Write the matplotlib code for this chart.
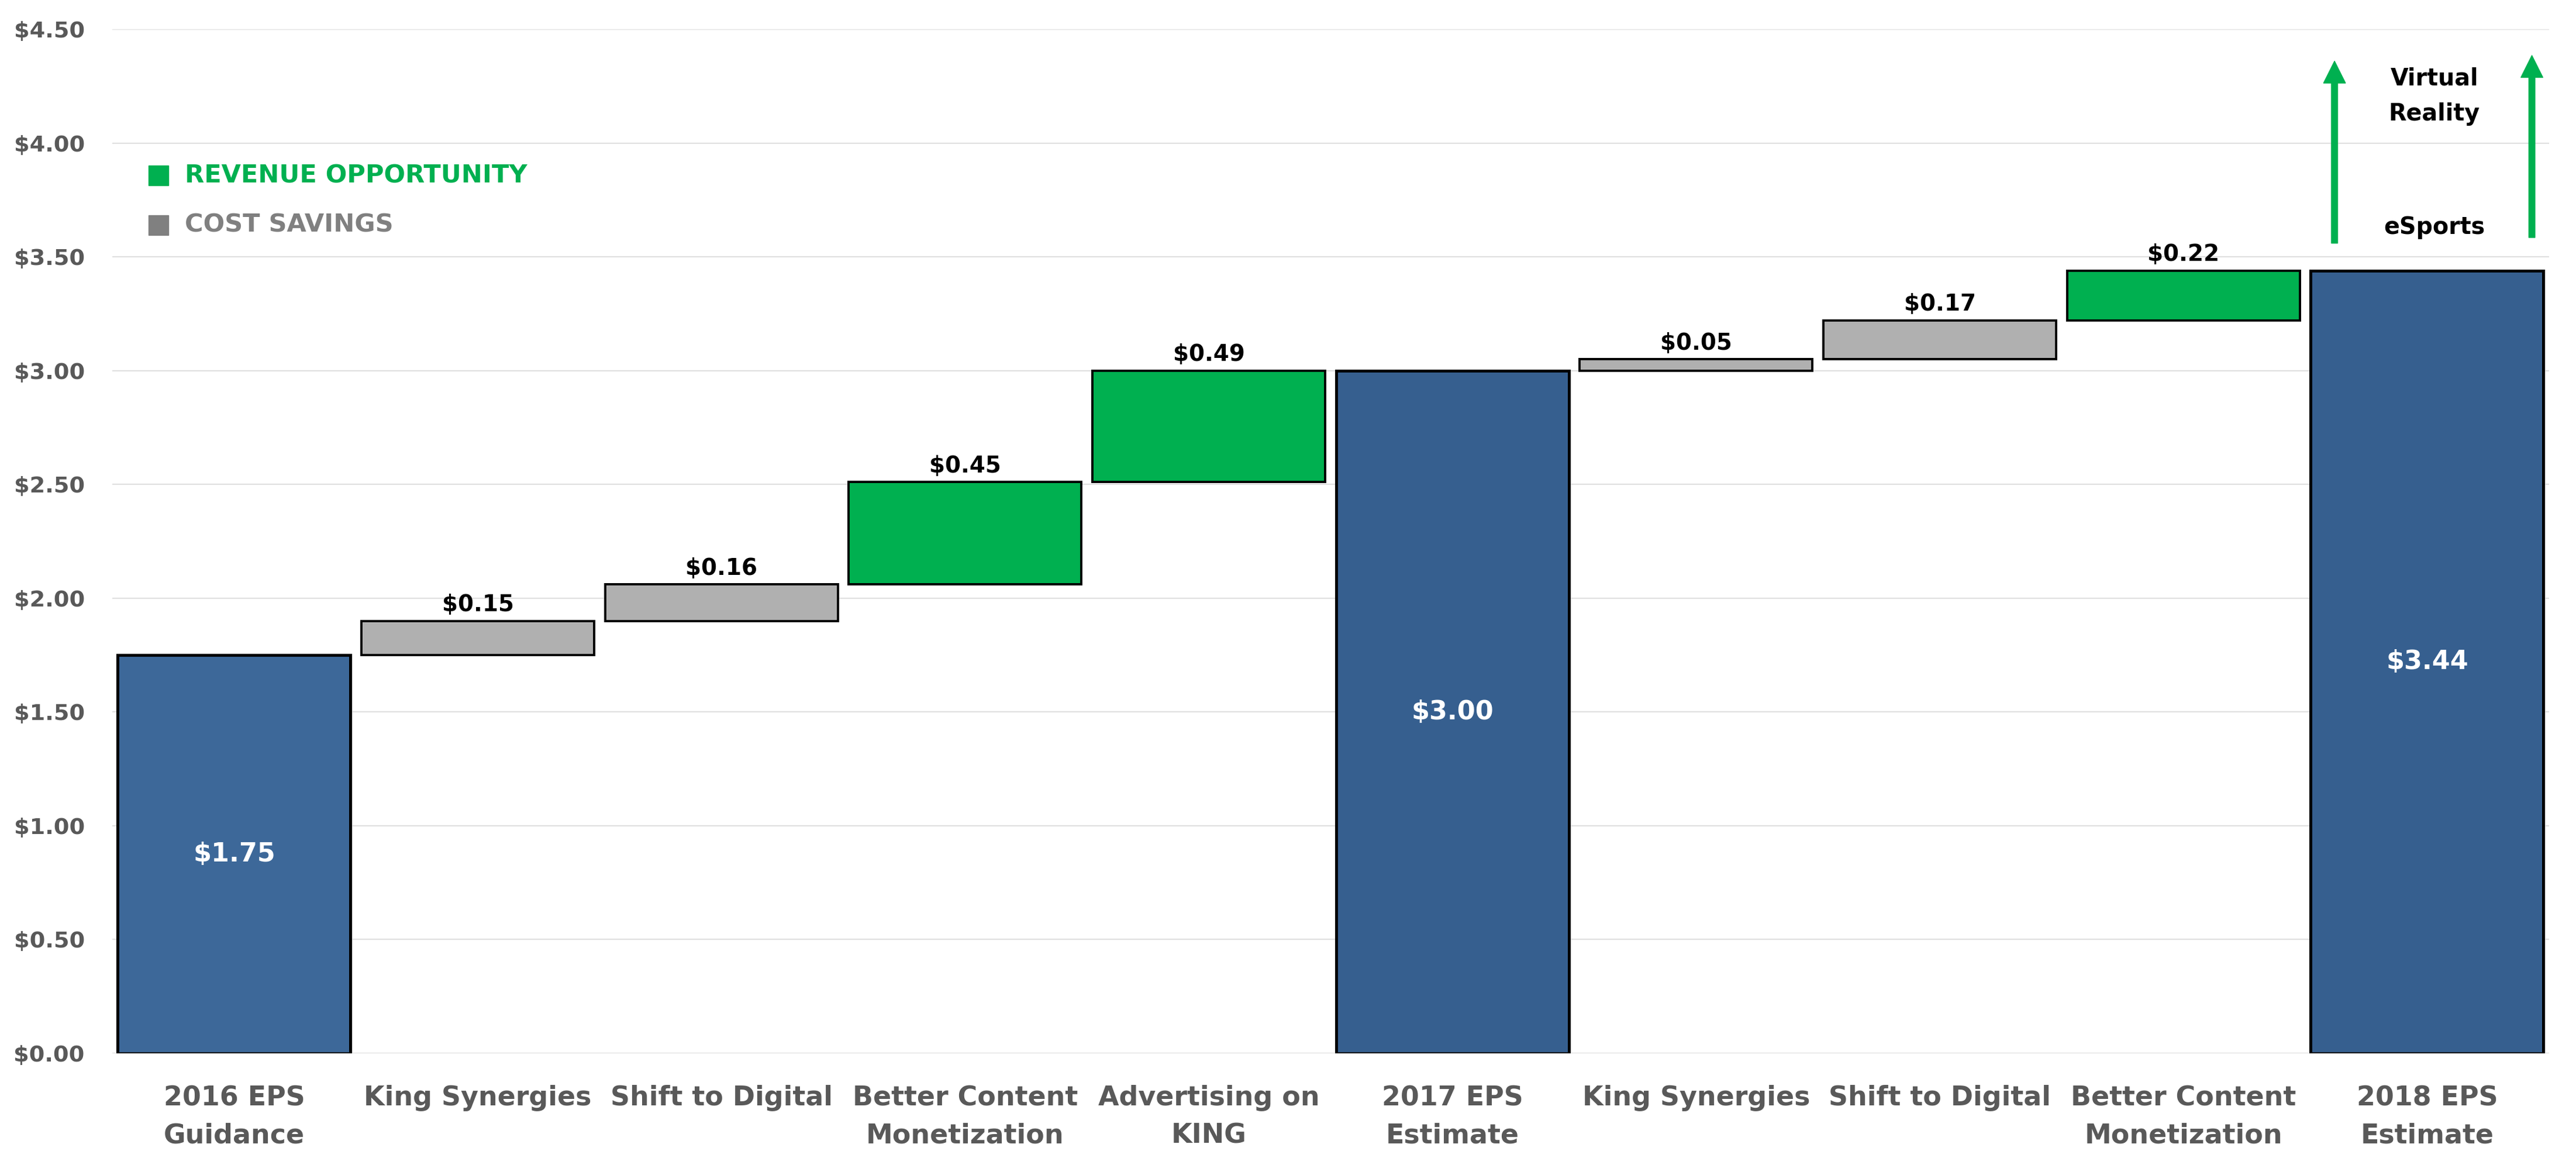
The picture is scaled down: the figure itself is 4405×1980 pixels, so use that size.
import matplotlib
matplotlib.use("Agg")
import matplotlib.pyplot as plt
from matplotlib.patches import Rectangle

# ---- data ----
categories = ["2016 EPS\nGuidance", "King Synergies", "Shift to Digital",
              "Better Content\nMonetization", "Advertising on\nKING",
              "2017 EPS\nEstimate", "King Synergies", "Shift to Digital",
              "Better Content\nMonetization", "2018 EPS\nEstimate"]
values = [1.75, 0.15, 0.16, 0.45, 0.49, 3.00, 0.05, 0.17, 0.22, 3.44]
kinds = ["total", "cost", "cost", "revenue", "revenue",
         "total", "cost", "cost", "revenue", "total"]
yticks = [0.0, 0.5, 1.0, 1.5, 2.0, 2.5, 3.0, 3.5, 4.0, 4.5]
legend_labels = ["REVENUE OPPORTUNITY", "COST SAVINGS"]
upside_labels = ["Virtual\nReality", "eSports"]

# ---- styles ----
GREEN = "#00B050"
GRAY_BAR = "#B0B0B0"
GRAY_LEG = "#808080"
BLUE_FIRST = "#3D6899"
BLUE = "#365F8F"
TXT = "#595959"
FONT = "DejaVu Sans"

fig = plt.figure(figsize=(44.05, 19.8), dpi=100)
ax = fig.add_axes([0.0436, 0.0904, 0.9459, 0.8843])

# compute waterfall bottoms
bottoms = []
running = 0.0
for v, k in zip(values, kinds):
    if k == "total":
        bottoms.append(0.0)
        running = v
    else:
        bottoms.append(running)
        running += v

colors = []
for i, k in enumerate(kinds):
    if k == "total":
        colors.append(BLUE_FIRST if i == 0 else BLUE)
    elif k == "cost":
        colors.append(GRAY_BAR)
    else:
        colors.append(GREEN)
lws = [3.6 if k == "total" else 2.8 for k in kinds]

x = list(range(len(categories)))
bars = ax.bar(x, values, bottom=bottoms, width=0.955, color=colors,
              edgecolor="black", linewidth=lws, zorder=3)

# labels
for xi, v, b, k in zip(x, values, bottoms, kinds):
    if k == "total":
        ax.text(xi, b + v / 2, f"${v:.2f}", ha="center", va="center",
                color="white", fontsize=32, fontweight="bold", family=FONT, zorder=4)
    else:
        ax.annotate(f"${v:.2f}", (xi, b + v), xytext=(0, 12),
                    textcoords="offset points", ha="center", va="baseline",
                    color="black", fontsize=28, fontweight="bold", family=FONT, zorder=4)

# axes styling
ax.set_xlim(-0.5, len(categories) - 0.5)
ax.set_ylim(0, 4.5)
ax.set_yticks(yticks)
ax.set_yticklabels([f"${t:.2f}" for t in yticks])
ax.set_xticks(x)
ax.set_xticklabels(categories, linespacing=1.55)
for lab in ax.get_yticklabels():
    lab.set_fontsize(27.5)
    lab.set_fontweight("bold")
    lab.set_color(TXT)
    lab.set_family(FONT)
for lab in ax.get_xticklabels():
    lab.set_fontsize(33)
    lab.set_fontweight("bold")
    lab.set_color(TXT)
    lab.set_family(FONT)
ax.tick_params(axis="y", length=0, pad=34)
ax.tick_params(axis="x", length=0, pad=39)
ax.grid(axis="y", color="#E0E0E0", linewidth=1.6, zorder=0)
ax.set_axisbelow(True)
for s in ax.spines.values():
    s.set_visible(False)

# legend (manual)
leg_colors = [GREEN, GRAY_LEG]
leg_y = [0.857, 0.809]
for lab, c, yy in zip(legend_labels, leg_colors, leg_y):
    ax.add_patch(Rectangle((0.0149, yy - 0.0097), 0.0082, 0.0194,
                           transform=ax.transAxes, color=c, zorder=5))
    ax.text(0.0298, yy, lab, transform=ax.transAxes, ha="left", va="center",
            color=c, fontsize=31, fontweight="bold", family=FONT, zorder=5)

# upside arrows on final bar
last = len(values) - 1
top = values[last]
for dx, y0, y1 in [(-0.38, top + 0.12, top + 0.92), (0.43, top + 0.145, top + 0.945)]:
    ax.annotate("", xy=(last + dx, y1), xytext=(last + dx, y0),
                arrowprops=dict(arrowstyle="simple,head_length=1.0,head_width=1.0,tail_width=0.28",
                                mutation_scale=27, color=GREEN, shrinkA=0, shrinkB=0),
                zorder=5, annotation_clip=False)
ax.text(last + 0.03, top + 0.765, upside_labels[0], ha="center", va="center",
        fontsize=28.5, fontweight="bold", family=FONT, color="black", linespacing=1.65)
ax.text(last + 0.03, top + 0.19, upside_labels[1], ha="center", va="center",
        fontsize=28.5, fontweight="bold", family=FONT, color="black")

fig.savefig("out.png", dpi=100, facecolor="white")
